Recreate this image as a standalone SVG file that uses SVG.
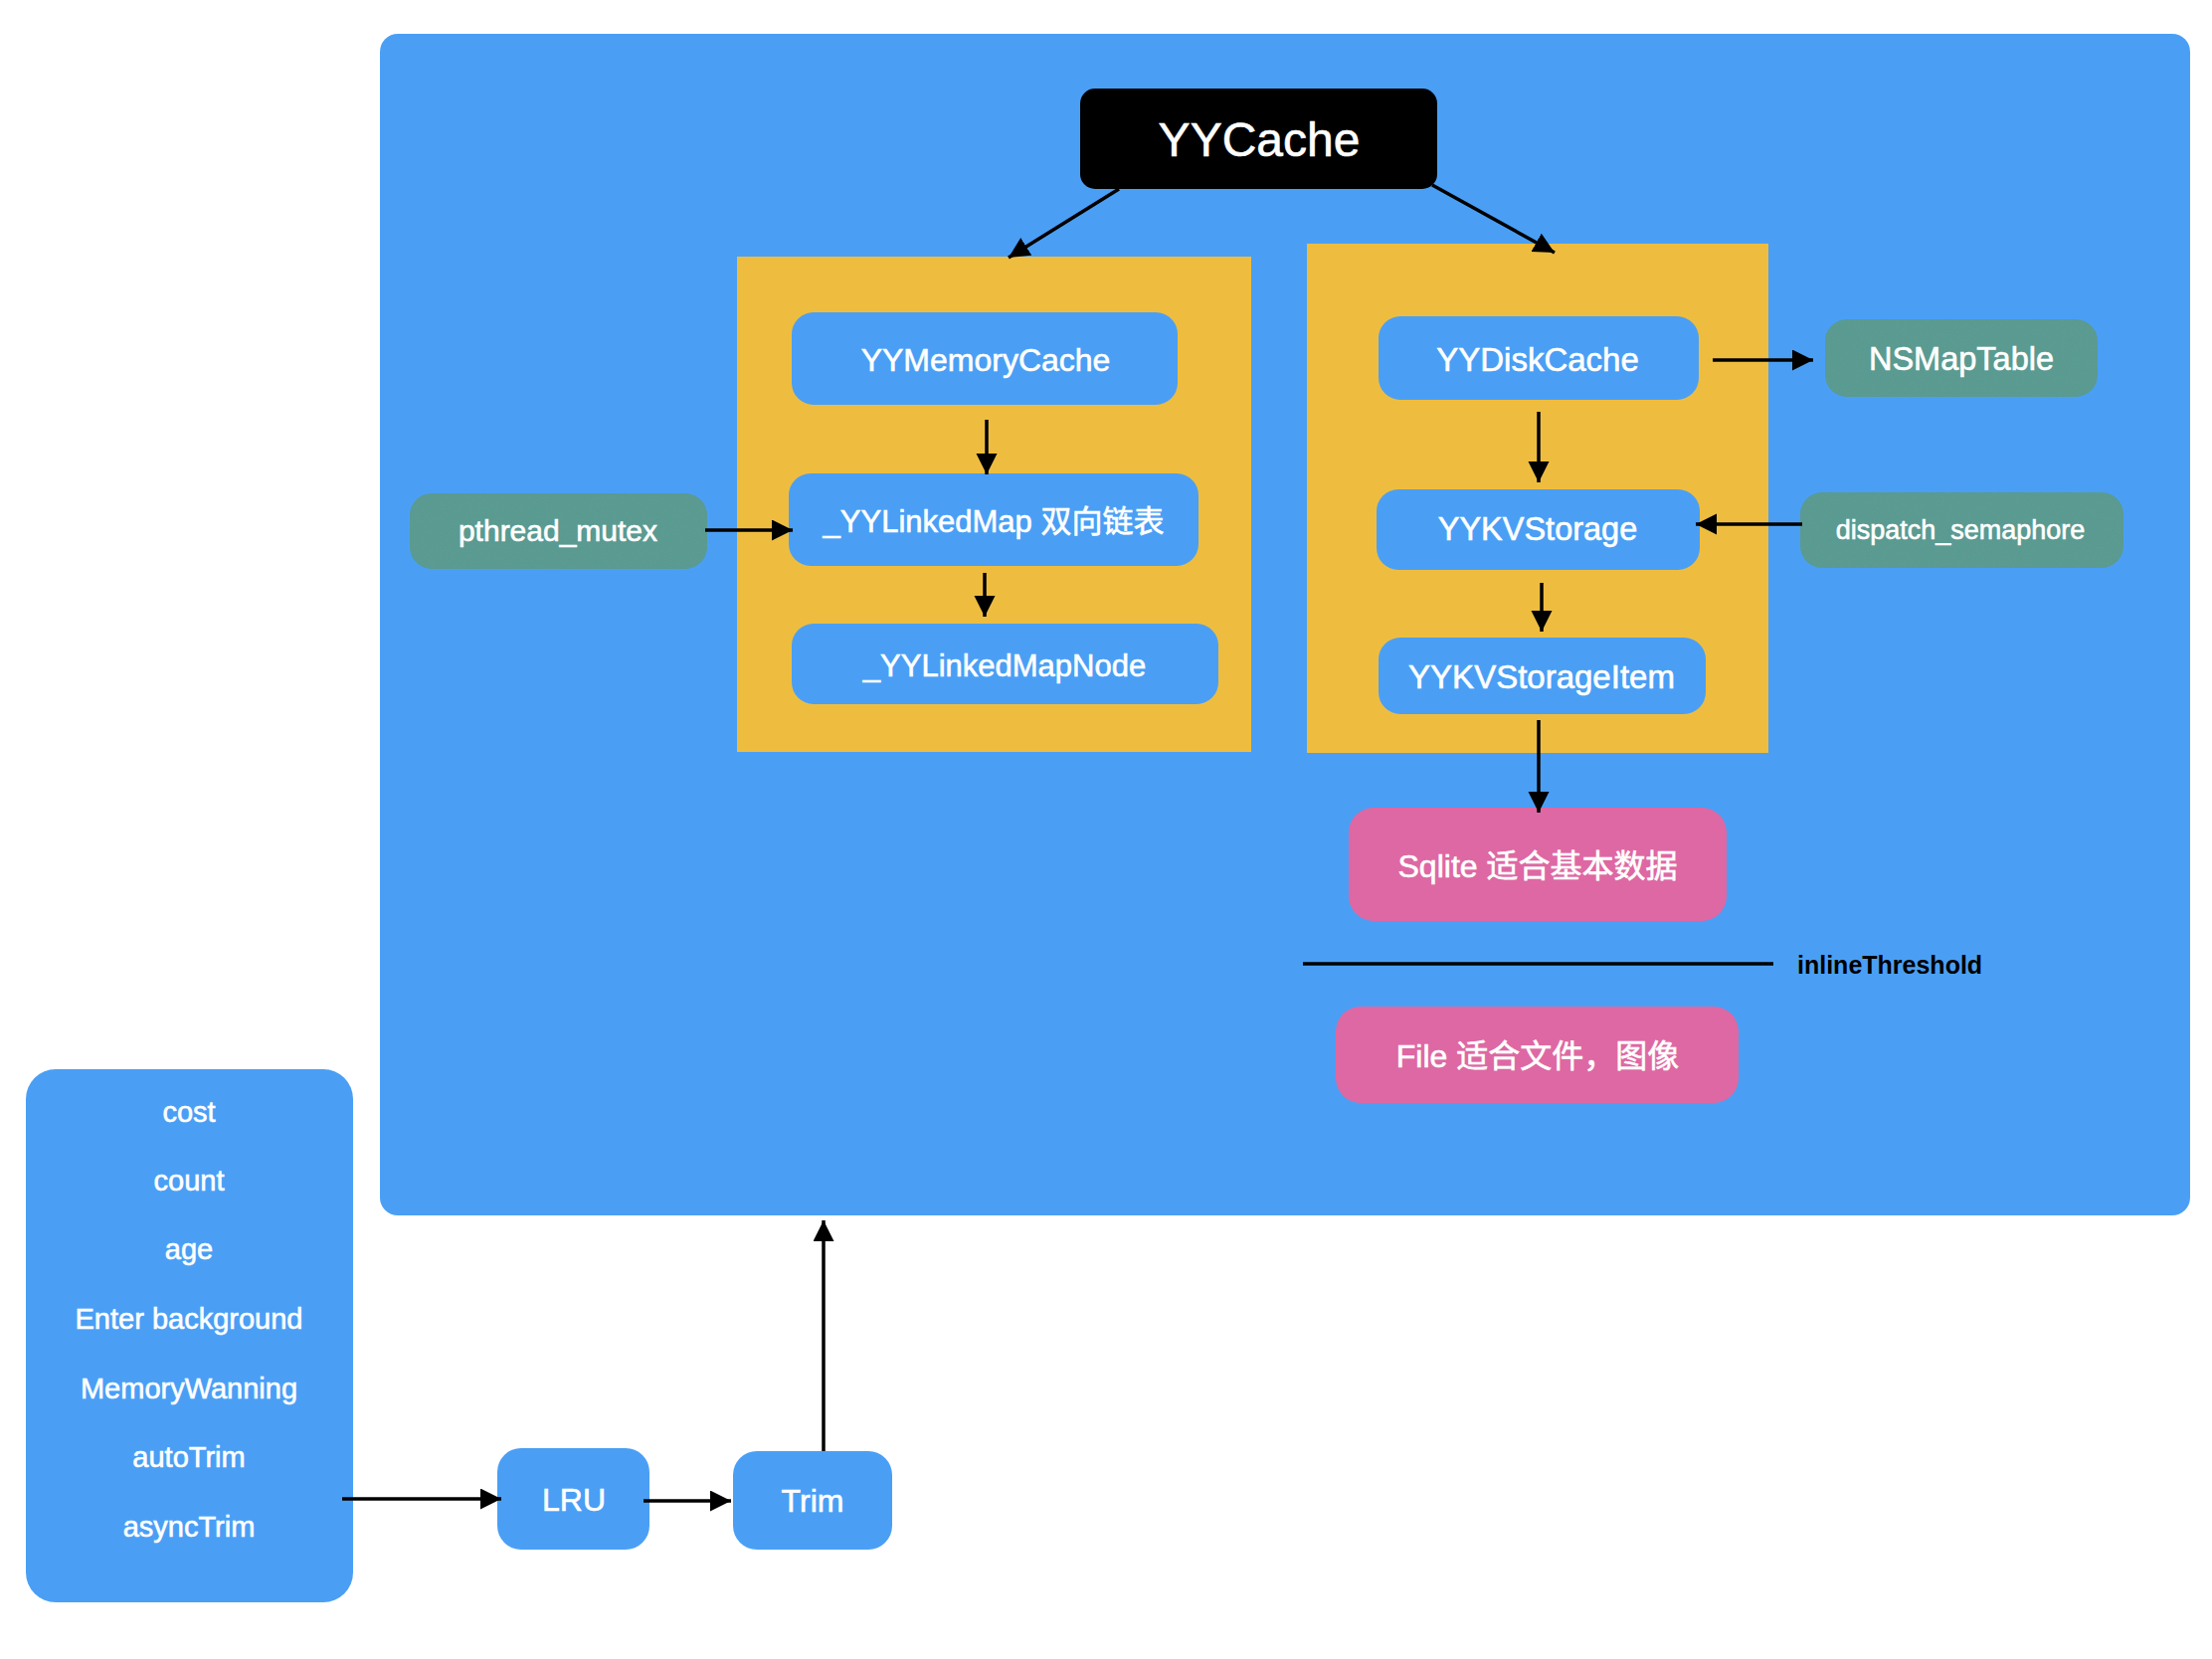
<svg xmlns="http://www.w3.org/2000/svg" width="2224" height="1668" viewBox="0 0 2224 1668">
  <style>
    .blue { fill: #4A9FF5; }
    .gold { fill: #EEBD40; }
    .teal { fill: #5B9E94; }
    .pink { fill: #DE68A3; }
    .lbl { font-family: "Liberation Sans", "Noto Sans CJK SC", sans-serif; fill: #FFFFFF; stroke: #FFFFFF; stroke-width: 0.6; text-anchor: middle; }
    .edge { stroke: #000000; stroke-width: 3.5; fill: none; marker-end: url(#head); }
  </style>
  <defs>
    <marker id="head" markerUnits="userSpaceOnUse" markerWidth="22" markerHeight="22" refX="21" refY="10.5" orient="auto">
      <path d="M0,0 L21,10.5 L0,21 Z" fill="#000000"/>
    </marker>
    <!-- light paper grain used on the lock / table nodes -->
    <filter id="grain" x="0" y="0" width="1" height="1">
      <feTurbulence type="fractalNoise" baseFrequency="0.85" numOctaves="2" seed="4" result="noise"/>
      <feColorMatrix in="noise" type="matrix" values="0 0 0 0 0.1  0 0 0 0 0.25  0 0 0 0 0.22  0 0 0 0.35 0" result="tint"/>
      <feComposite in="tint" in2="SourceGraphic" operator="in" result="speck"/>
      <feMerge><feMergeNode in="SourceGraphic"/><feMergeNode in="speck"/></feMerge>
    </filter>
  </defs>

  <rect width="2224" height="1668" fill="#FFFFFF"/>

  <!-- cache container -->
  <g id="container">
    <rect class="blue" x="382" y="34" width="1820" height="1188" rx="18"/>
  </g>

  <g id="memory-group">
    <rect class="gold" x="741" y="258" width="517" height="498"/>
  </g>
  <g id="disk-group">
    <rect class="gold" x="1314" y="245" width="464" height="512"/>
  </g>

  <g id="yycache">
    <rect x="1086" y="89" width="359" height="101" rx="15" fill="#000000"/>
    <text class="lbl" x="1266" y="157" font-size="48">YYCache</text>
  </g>

  <g id="yymemorycache">
    <rect class="blue" x="796" y="314" width="388" height="93" rx="22"/>
    <text class="lbl" x="991" y="373" font-size="32">YYMemoryCache</text>
  </g>
  <g id="yylinkedmap">
    <rect class="blue" x="793" y="476" width="412" height="93" rx="22"/>
    <text class="lbl" x="999" y="535" font-size="31">_YYLinkedMap 双向链表</text>
  </g>
  <g id="yylinkedmapnode">
    <rect class="blue" x="796" y="627" width="429" height="81" rx="22"/>
    <text class="lbl" x="1010" y="680" font-size="31">_YYLinkedMapNode</text>
  </g>
  <g id="pthread-mutex">
    <rect class="teal" x="412" y="496" width="299" height="76" rx="22" filter="url(#grain)"/>
    <text class="lbl" x="561" y="544" font-size="30">pthread_mutex</text>
  </g>

  <g id="yydiskcache">
    <rect class="blue" x="1386" y="318" width="322" height="84" rx="22"/>
    <text class="lbl" x="1546" y="373" font-size="33">YYDiskCache</text>
  </g>
  <g id="nsmaptable">
    <rect class="teal" x="1835" y="321" width="274" height="78" rx="22" filter="url(#grain)"/>
    <text class="lbl" x="1972" y="372" font-size="32.5">NSMapTable</text>
  </g>
  <g id="yykvstorage">
    <rect class="blue" x="1384" y="492" width="325" height="81" rx="22"/>
    <text class="lbl" x="1546" y="543" font-size="32.5">YYKVStorage</text>
  </g>
  <g id="dispatch-semaphore">
    <rect class="teal" x="1810" y="495" width="325" height="76" rx="22" filter="url(#grain)"/>
    <text class="lbl" x="1971" y="542" font-size="27">dispatch_semaphore</text>
  </g>
  <g id="yykvstorageitem">
    <rect class="blue" x="1386" y="641" width="329" height="77" rx="22"/>
    <text class="lbl" x="1550" y="692" font-size="33">YYKVStorageItem</text>
  </g>

  <g id="sqlite">
    <rect class="pink" x="1356" y="812" width="380" height="114" rx="25"/>
    <text class="lbl" x="1546" y="882" font-size="32">Sqlite 适合基本数据</text>
  </g>
  <g id="inline-threshold">
    <line x1="1310" y1="969" x2="1783" y2="969" stroke="#000000" stroke-width="3.5"/>
    <text x="1807" y="979" font-family="'Liberation Sans', sans-serif" font-weight="bold" font-size="25" fill="#000000">inlineThreshold</text>
  </g>
  <g id="file">
    <rect class="pink" x="1343" y="1012" width="405" height="97" rx="25"/>
    <text class="lbl" x="1546" y="1073" font-size="32">File 适合文件，图像</text>
  </g>

  <g id="trim-triggers">
    <rect class="blue" x="26" y="1075" width="329" height="536" rx="30"/>
    <text class="lbl" x="190" y="1128" font-size="29">cost</text>
    <text class="lbl" x="190" y="1197" font-size="29">count</text>
    <text class="lbl" x="190" y="1266" font-size="29">age</text>
    <text class="lbl" x="190" y="1336" font-size="29">Enter background</text>
    <text class="lbl" x="190" y="1406" font-size="29">MemoryWanning</text>
    <text class="lbl" x="190" y="1475" font-size="29">autoTrim</text>
    <text class="lbl" x="190" y="1545" font-size="29">asyncTrim</text>
  </g>
  <g id="lru">
    <rect class="blue" x="500" y="1456" width="153" height="102" rx="24"/>
    <text class="lbl" x="577" y="1519" font-size="32">LRU</text>
  </g>
  <g id="trim">
    <rect class="blue" x="737" y="1459" width="160" height="99" rx="24"/>
    <text class="lbl" x="817" y="1520" font-size="32">Trim</text>
  </g>

  <g id="connectors">
    <line class="edge" x1="1125" y1="190" x2="1014" y2="259"/>
    <line class="edge" x1="1440" y1="186" x2="1563" y2="254"/>
    <line class="edge" x1="992" y1="422" x2="992" y2="477"/>
    <line class="edge" x1="990" y1="576" x2="990" y2="620"/>
    <line class="edge" x1="709" y1="533" x2="797" y2="533"/>
    <line class="edge" x1="1722" y1="362" x2="1823" y2="362"/>
    <line class="edge" x1="1547" y1="414" x2="1547" y2="485"/>
    <line class="edge" x1="1812" y1="527" x2="1705" y2="527"/>
    <line class="edge" x1="1550" y1="586" x2="1550" y2="635"/>
    <line class="edge" x1="1547" y1="724" x2="1547" y2="817"/>
    <line class="edge" x1="344" y1="1507" x2="504" y2="1507"/>
    <line class="edge" x1="647" y1="1509" x2="735" y2="1509"/>
    <line class="edge" x1="828" y1="1459" x2="828" y2="1227"/>
  </g>
</svg>
